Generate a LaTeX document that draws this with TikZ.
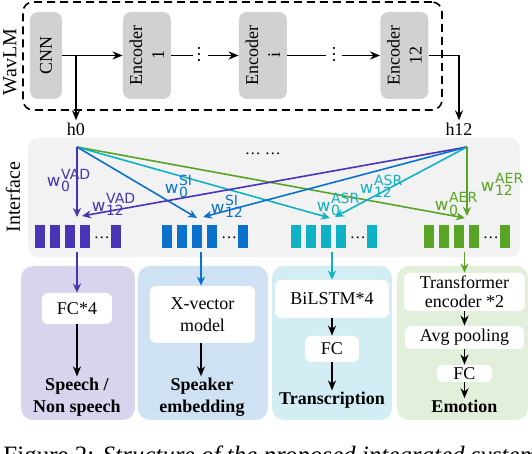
\documentclass[tikz,border=0pt]{standalone}
\usepackage{fontspec}
\setmainfont{Liberation Serif}
\newfontfamily\labfont{DejaVu Sans}
\usetikzlibrary{arrows.meta}
\definecolor{cvad}{RGB}{72,52,180}
\definecolor{csi}{RGB}{10,114,204}
\definecolor{casr}{RGB}{14,178,196}
\definecolor{caer}{RGB}{88,164,36}
\definecolor{fvad}{RGB}{217,212,238}
\definecolor{fsi}{RGB}{207,226,243}
\definecolor{fasr}{RGB}{210,237,243}
\definecolor{faer}{RGB}{226,239,218}
\newcommand{\wsm}{\fontsize{7}{7}\selectfont}
\newcommand{\wsub}[2]{w\kern0.3pt\setbox0=\hbox{\wsm #1}\setbox2=\hbox{\wsm #2}\dimen0=\wd0 \ifdim\wd2>\dimen0 \dimen0=\wd2 \fi\rlap{\lower2pt\box0}\rlap{\raise4pt\box2}\hskip\dimen0}
\newcommand{\barset}[3]{%
  \foreach \i/\dx in {1/0,2/15,3/30,4/45,5/76}{\node[barbox,fill=#3] (#1\i) at (#2+\dx+5.25,236.5) {};}
  \node[font=\fontsize{8}{9}\selectfont,inner sep=0] (#1dots) at (#2+67,238) {…};}
\begin{document}
\begin{tikzpicture}[x=0.5pt,y=-0.5pt,
  txt/.style={font=\fontsize{9}{11}\selectfont},
  enc/.style={rotate=90,fill=black!18,rounded corners=4pt,minimum width=43.5pt,minimum height=24pt,inner sep=1pt,align=center,font=\fontsize{9}{11}\selectfont},
  barr/.style={-{Stealth[length=5pt,width=4pt]},line width=0.9pt,black},
  bline/.style={line width=0.9pt,black},
  carr/.style={-{Stealth[length=4.5pt,width=4pt]},line width=0.8pt},
  barbox/.style={minimum width=5.25pt,minimum height=11.5pt,inner sep=0,draw=none},
  blk/.style={rounded corners=6pt,inner sep=0,draw=none},
  wbox/.style={fill=white,rounded corners=3pt,inner sep=0,align=center,font=\fontsize{9}{11}\selectfont},
  outt/.style={inner sep=0.5pt,align=center,font=\fontsize{9}{11}\selectfont\bfseries},
  wl/.style={font=\labfont\fontsize{8.3}{9}\selectfont,inner sep=0}]
\useasboundingbox (0,0) rectangle (532,454);
% ---------- WavLM ----------
\node[draw,dash pattern=on 4pt off 2.5pt,rounded corners=5pt,line width=0.8pt,minimum width=209.5pt,minimum height=54pt,inner sep=0] (wavbox) at (232.5,56) {};
\node[rotate=90,font=\fontsize{10}{12}\selectfont] (wavlm) at (10,62) {WavLM};
\node[enc,minimum height=16pt] (cnn) at (46,55.5) {CNN};
\node[enc] (enc1) at (147,55.5) {Encoder\\1};
\node[enc] (enci) at (263,55.5) {Encoder\\i};
\node[enc] (enc12) at (404.5,55.5) {Encoder\\12};
\draw[barr] (cnn) -- (enc1);
\coordinate (d1a) at (193,55.5); \coordinate (d1b) at (208,55.5);
\node[rotate=90,txt,inner sep=0] (dots1) at (199,55) {…};
\draw[bline] (enc1) -- (d1a); \draw[barr] (d1b) -- (enci);
\coordinate (d2a) at (326,55.5); \coordinate (d2b) at (342,55.5);
\node[rotate=90,txt,inner sep=0] (dots2) at (334,55) {…};
\draw[bline] (enci) -- (d2a); \draw[barr] (d2b) -- (enc12);
\node[txt,inner sep=1pt] (h0) at (76,129) {h0};
\node[txt,inner sep=1pt] (h12) at (459,129) {h12};
\coordinate (b0) at (76,55.5);
\draw[barr] (b0) -- (h0);
\draw[barr] (enc12) -| (h12);
% ---------- Interface ----------
\node[fill=black!5,rounded corners=5pt,minimum width=246pt,minimum height=59.5pt,inner sep=0] (iface) at (274,197.5) {};
\node[rotate=90,font=\fontsize{10}{12}\selectfont] (iflab) at (13,197) {Interface};
\node[font=\fontsize{8}{9}\selectfont,inner sep=0] (idots) at (263,154) {… …};
\coordinate (p0) at (77,147); \coordinate (p12) at (467,147);
\coordinate (tv0) at (77,217); \coordinate (tv12) at (82,216);
\coordinate (ts0) at (197,218); \coordinate (ts12) at (203,217);
\coordinate (ta0) at (330,218); \coordinate (ta12) at (335,217);
\coordinate (te0) at (465,218); \coordinate (te12) at (467,216);
\draw[carr,caer] (p0) -- (te0);
\draw[carr,casr] (p0) -- (ta0);
\draw[carr,csi] (p0) -- (ts0);
\draw[carr,cvad] (p0) -- (tv0);
\draw[carr,cvad] (p12) -- (tv12);
\draw[carr,csi] (p12) -- (ts12);
\draw[carr,casr] (p12) -- (ta12);
\draw[carr,caer] (p12) -- (te12);
\node[wl,text=cvad] (lv0) at (54,180) {\wsub{0}{VAD}};
\node[wl,text=cvad] (lv12) at (99,204) {\wsub{12}{VAD}};
\node[wl,text=csi] (ls0) at (172,186) {\wsub{0}{SI}};
\node[wl,text=csi] (ls12) at (218,206) {\wsub{12}{SI}};
\node[wl,text=casr] (la0) at (324,204) {\wsub{0}{ASR}};
\node[wl,text=casr] (la12) at (367,186) {\wsub{12}{ASR}};
\node[wl,text=caer] (le0) at (442,204) {\wsub{0}{AER}};
\node[wl,text=caer] (le12) at (488,184) {\wsub{12}{AER}};
\barset{bv}{35}{cvad}
\barset{bs}{162}{csi}
\barset{ba}{291}{casr}
\barset{be}{424}{caer}
% ---------- Task blocks ----------
\node[blk,fill=fvad,minimum width=57pt,minimum height=77pt] (blkvad) at (78,343) {};
\node[blk,fill=fsi,minimum width=65pt,minimum height=77pt] (blksi) at (203,343) {};
\node[blk,fill=fasr,minimum width=60pt,minimum height=77pt] (blkasr) at (332,343) {};
\node[blk,fill=faer,minimum width=65.5pt,minimum height=77pt] (blkaer) at (462.5,343) {};
% VAD
\node[wbox,minimum width=35pt,minimum height=15.5pt] (fc4) at (77,308.5) {FC*4};
\node[outt] (vout) at (77,397) {Speech /\\Non speech};
\coordinate (sv) at (77,252);
\draw[carr,cvad] (sv) -- (fc4);
\draw[barr] (fc4) -- (vout);
% SI
\node[wbox,minimum width=52.5pt,minimum height=28.5pt] (xvec) at (202.5,314.5) {X-vector\\model};
\node[outt] (sout) at (202,397) {Speaker\\embedding};
\coordinate (ss) at (201,252);
\draw[carr,csi] (ss) -- (ss |- xvec.north);
\draw[barr] (xvec.south -| ss) -- (ss |- sout.north);
% ASR
\node[wbox,minimum width=57pt,minimum height=19pt] (bilstm) at (332,299) {BiLSTM*4};
\node[wbox,minimum width=27pt,minimum height=13pt] (fca) at (332,349) {FC};
\node[outt] (aout) at (332,400) {Transcription};
\coordinate (sa) at (332,252);
\draw[carr,casr] (sa) -- (bilstm);
\draw[barr] (bilstm) -- (fca);
\draw[barr] (fca) -- (aout);
% AER
\node[wbox,minimum width=60.5pt,minimum height=19pt,font=\fontsize{9}{9.5}\selectfont] (tenc) at (464.5,292) {Transformer\\encoder *2};
\node[wbox,minimum width=59.5pt,minimum height=11.5pt] (avg) at (464.5,337.5) {Avg pooling};
\node[wbox,minimum width=27.5pt,minimum height=8.5pt] (fce) at (464.5,373.5) {FC};
\node[outt] (eout) at (464.5,406) {Emotion};
\coordinate (se) at (464.5,252);
\draw[carr,caer] (se) -- (tenc);
\draw[barr] (tenc) -- (avg);
\draw[barr] (avg) -- (fce);
\draw[barr] (fce) -- (eout);
% caption (cut by the page edge, as in the reference)
\node[anchor=base west,font=\fontsize{12.5}{15}\selectfont,inner sep=0] (cap) at (3,464) {Figure 2: \textit{Structure of the proposed integrated system}};
\end{tikzpicture}
\end{document}
